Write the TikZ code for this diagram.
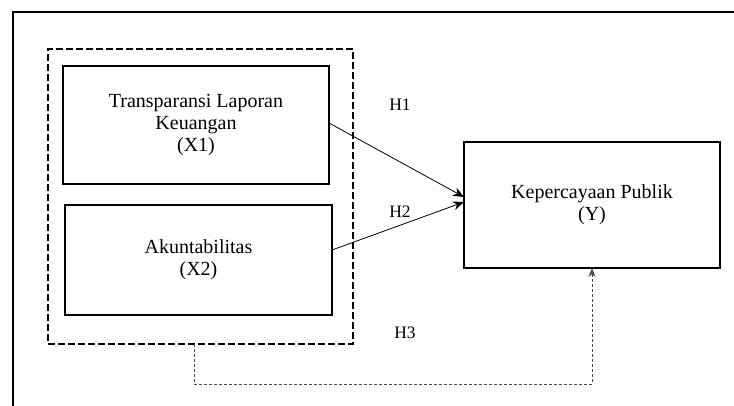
\documentclass[tikz,border=0pt]{standalone}
\usepackage{fontspec}
\setmainfont{Liberation Serif}
\usetikzlibrary{arrows.meta,calc}
\begin{document}
\begin{tikzpicture}[x=1pt,y=-1pt,
  box/.style={draw,line width=1.5pt,inner sep=0pt,outer sep=0pt,align=center,
    font=\fontsize{20}{22}\selectfont},
  grp/.style={draw,line width=1.5pt,dash pattern=on 7pt off 3pt,inner sep=0pt,outer sep=0pt},
  lbl/.style={font=\fontsize{17.5}{20}\selectfont,inner sep=0pt},
  arr/.style={line width=0.8pt,-{Stealth[length=11pt,width=9pt]}},
  darr/.style={line width=0.8pt,draw=black!70,dash pattern=on 3pt off 2pt,-{Stealth[length=9pt,width=7pt]}}]
\useasboundingbox (0,0) rectangle (734,406);
\fill[white] (0,0) rectangle (734,406);
\draw[line width=2pt] (734,12) -- (13,12) -- (13,406);
\node[grp,minimum width=305pt,minimum height=295pt] (g) at (200.5,196.5) {};
\node[box,minimum width=266pt,minimum height=118pt] (b1) at (196,125) {Transparansi Laporan\\Keuangan\\(X1)};
\node[box,minimum width=267pt,minimum height=110pt] (b2) at (198.5,260) {Akuntabilitas\\(X2)};
\node[box,minimum width=256pt,minimum height=126pt] (y) at (592,205) {Kepercayaan Publik\\(Y)};
\node[lbl] (h1) at (400,105) {H1};
\node[lbl] (h2) at (400,212) {H2};
\node[lbl] (h3) at (405,333) {H3};
\coordinate (s1) at ([yshift=2pt]b1.east);
\coordinate (e1) at ([yshift=8pt]y.west);
\coordinate (s2) at ([yshift=10pt]b2.east);
\coordinate (e2) at ([yshift=3pt]y.west);
\draw[arr] (s1) -- (e1);
\draw[arr] (s2) -- (e2);
\coordinate (s3) at ([xshift=-6.5pt]g.south);
\draw[darr] (s3) -- ++(0,40) -| (y.south);
\end{tikzpicture}
\end{document}
